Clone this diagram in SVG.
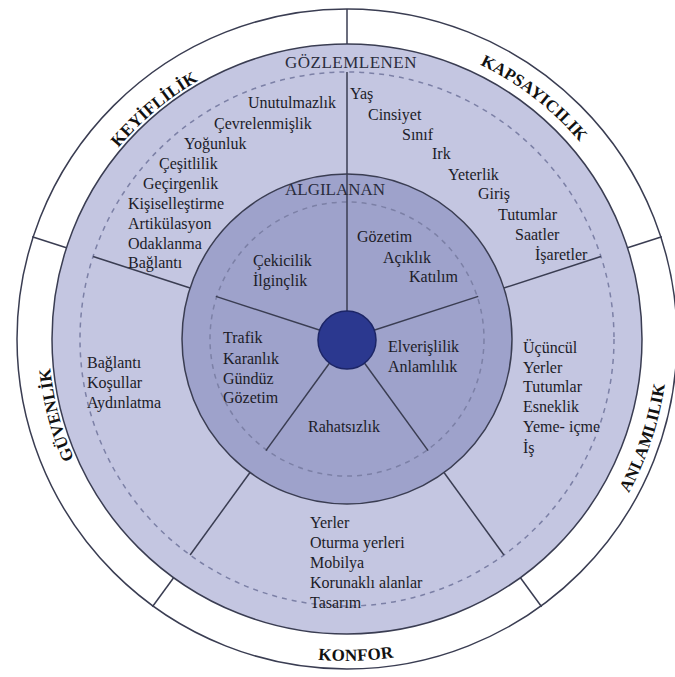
<svg xmlns="http://www.w3.org/2000/svg" width="675" height="677" viewBox="0 0 675 677">
<style>
.t{font-family:'Liberation Serif','DejaVu Serif','Noto Serif',Tinos,'Times New Roman',Times,serif;font-size:16px;fill:#1c1c28}
.h{font-family:'Liberation Serif','DejaVu Serif','Noto Serif',Tinos,'Times New Roman',Times,serif;font-size:17px;fill:#2a2c3c}
.r{font-family:'Liberation Serif','DejaVu Serif','Noto Serif',Tinos,'Times New Roman',Times,serif;font-size:17px;font-weight:bold;fill:#111;letter-spacing:0.2px}
.ln{stroke:#3a3d52;stroke-width:1.5;fill:none}
.ds{stroke:#7c80a6;stroke-width:1.5;fill:none;stroke-dasharray:5 5}
</style>
<defs>
<path id="pKey" d="M53.5,390.7 A298,298 0 0 1 448.9,59.0"/>
<path id="pKap" d="M231.8,56.6 A305,305 0 0 1 649.2,380.4"/>
<path id="pGuv" d="M267.9,626.3 A298,298 0 0 1 137.7,126.8"/>
<path id="pAnl" d="M411.6,653.5 A321,321 0 0 0 587.0,125.9"/>
<path id="pKon" d="M72.8,507.7 A322,322 0 0 0 630.2,492.1"/>
</defs>
<rect width="675" height="677" fill="#ffffff"/>
<g id="rings">
<circle cx="347" cy="339" r="330" fill="#ffffff" stroke="#3a3d52" stroke-width="1.5"/>
<circle cx="347" cy="339" r="295" fill="#c4c6e1" stroke="#3a3d52" stroke-width="1.5"/>
<circle class="ds" cx="347" cy="339" r="267"/>
<circle cx="347" cy="339" r="165" fill="#9ea2cb" stroke="#3a3d52" stroke-width="1.5"/>
<circle class="ds" cx="347" cy="339" r="137"/>
</g>
<g id="connectors">
<line class="ln" x1="347" y1="44" x2="347" y2="9"/>
<line class="ln" x1="627.6" y1="247.8" x2="661.8" y2="236.7"/>
<line class="ln" x1="520.4" y1="577.7" x2="541.6" y2="606.8"/>
<line class="ln" x1="173.6" y1="577.7" x2="152.4" y2="606.8"/>
<line class="ln" x1="66.4" y1="247.8" x2="32.2" y2="236.7"/>
<line class="ln" x1="347" y1="72" x2="347" y2="339"/>
<line class="ln" x1="503.9" y1="288.0" x2="600.9" y2="256.5"/>
<line class="ln" x1="444.0" y1="472.5" x2="503.9" y2="555.0"/>
<line class="ln" x1="250.0" y1="472.5" x2="190.1" y2="555.0"/>
<line class="ln" x1="190.1" y1="288.0" x2="93.1" y2="256.5"/>
<line class="ln" x1="347" y1="339" x2="478.2" y2="296.4"/>
<line class="ln" x1="347" y1="339" x2="428.1" y2="450.6"/>
<line class="ln" x1="347" y1="339" x2="265.9" y2="450.6"/>
<line class="ln" x1="347" y1="339" x2="215.8" y2="296.4"/>
</g>
<g id="center">
<circle cx="347" cy="340" r="29" fill="#2b388f" stroke="#1c2566" stroke-width="1.5"/>
</g>
<g id="ring-labels">
<text class="r" letter-spacing="0.6"><textPath href="#pKey" startOffset="50%" text-anchor="middle">KEYİFLİLİK</textPath></text>
<text class="r"><textPath href="#pKap" startOffset="50%" text-anchor="middle">KAPSAYICILIK</textPath></text>
<text class="r"><textPath href="#pGuv" startOffset="50%" text-anchor="middle">GÜVENLİK</textPath></text>
<text class="r"><textPath href="#pAnl" startOffset="50%" text-anchor="middle">ANLAMLILIK</textPath></text>
<text class="r"><textPath href="#pKon" startOffset="50%" text-anchor="middle">KONFOR</textPath></text>
</g>
<g id="headings">
<text class="h" x="285" y="68" letter-spacing="0.5">GÖZLEMLENEN</text>
<text class="h" x="285" y="195">ALGILANAN</text>
</g>
<g id="observed-keyiflilik">
<text class="t" x="248" y="108">Unutulmazlık</text>
<text class="t" x="214" y="129">Çevrelenmişlik</text>
<text class="t" x="184" y="149">Yoğunluk</text>
<text class="t" x="159" y="169">Çeşitlilik</text>
<text class="t" x="143" y="189">Geçirgenlik</text>
<text class="t" x="128" y="209">Kişiselleştirme</text>
<text class="t" x="128" y="229">Artikülasyon</text>
<text class="t" x="128" y="249">Odaklanma</text>
<text class="t" x="128" y="268">Bağlantı</text>
</g>
<g id="observed-kapsayicilik">
<text class="t" x="350" y="99">Yaş</text>
<text class="t" x="368" y="120">Cinsiyet</text>
<text class="t" x="402" y="140">Sınıf</text>
<text class="t" x="432" y="159">Irk</text>
<text class="t" x="448" y="180">Yeterlik</text>
<text class="t" x="478" y="199">Giriş</text>
<text class="t" x="498" y="220">Tutumlar</text>
<text class="t" x="515" y="240">Saatler</text>
<text class="t" x="535" y="260">İşaretler</text>
</g>
<g id="observed-anlamlilik">
<text class="t" x="523" y="353">Üçüncül</text>
<text class="t" x="523" y="373">Yerler</text>
<text class="t" x="523" y="392">Tutumlar</text>
<text class="t" x="523" y="412">Esneklik</text>
<text class="t" x="523" y="432">Yeme- içme</text>
<text class="t" x="523" y="453">İş</text>
</g>
<g id="observed-konfor">
<text class="t" x="310" y="528">Yerler</text>
<text class="t" x="310" y="548">Oturma yerleri</text>
<text class="t" x="310" y="568">Mobilya</text>
<text class="t" x="310" y="588">Korunaklı alanlar</text>
<text class="t" x="310" y="608">Tasarım</text>
</g>
<g id="observed-guvenlik">
<text class="t" x="87" y="368">Bağlantı</text>
<text class="t" x="87" y="388">Koşullar</text>
<text class="t" x="87" y="408">Aydınlatma</text>
</g>
<g id="perceived-kapsayicilik">
<text class="t" x="357" y="242">Gözetim</text>
<text class="t" x="383" y="263">Açıklık</text>
<text class="t" x="409" y="282">Katılım</text>
</g>
<g id="perceived-keyiflilik">
<text class="t" x="253" y="266">Çekicilik</text>
<text class="t" x="253" y="286">İlginçlik</text>
</g>
<g id="perceived-guvenlik">
<text class="t" x="223" y="343">Trafik</text>
<text class="t" x="223" y="364">Karanlık</text>
<text class="t" x="223" y="384">Gündüz</text>
<text class="t" x="223" y="403">Gözetim</text>
</g>
<g id="perceived-anlamlilik">
<text class="t" x="388" y="352">Elverişlilik</text>
<text class="t" x="388" y="372">Anlamlılık</text>
</g>
<g id="perceived-konfor">
<text class="t" x="308" y="432">Rahatsızlık</text>
</g>
</svg>
